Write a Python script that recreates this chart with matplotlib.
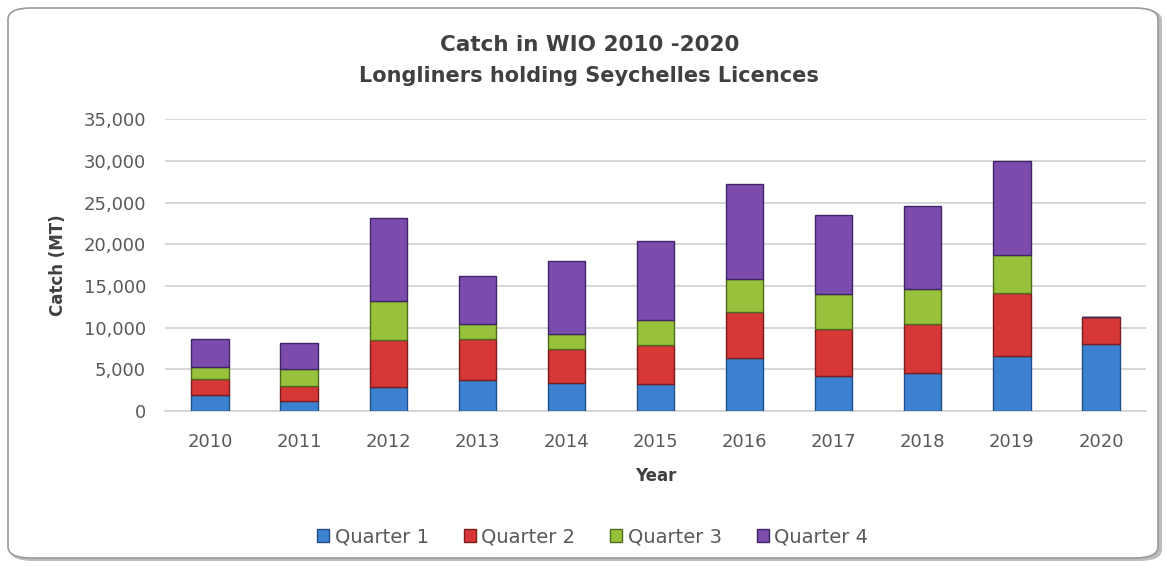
import matplotlib
matplotlib.use("Agg")
import matplotlib.pyplot as plt
from matplotlib.patches import FancyBboxPatch
from matplotlib.ticker import FuncFormatter, MultipleLocator
import numpy as np

years = ["2010", "2011", "2012", "2013", "2014", "2015", "2016", "2017", "2018", "2019", "2020"]
quarter1 = [1900, 1200, 2900, 3700, 3400, 3200, 6400, 4200, 4600, 6600, 8000]
quarter2 = [1900, 1800, 5600, 4900, 4000, 4700, 5500, 5600, 5900, 7600, 3300]
quarter3 = [1500, 2000, 4700, 1900, 1900, 3000, 3900, 4200, 4100, 4500, 0]
quarter4 = [3300, 3200, 10000, 5700, 8700, 9500, 11400, 9500, 10000, 11300, 0]
series_names = ["Quarter 1", "Quarter 2", "Quarter 3", "Quarter 4"]
colors = ["#3c82d0", "#d63838", "#98c23c", "#7b4cae"]
edges = ["#1f4f86", "#7a1c1c", "#4f6a1c", "#3f2466"]

plt.rcParams['font.family'] = ['DejaVu Sans']

fig = plt.figure(figsize=(11.67, 5.67), dpi=100)
fig.patch.set_facecolor("white")

# outer rounded border
shadow = FancyBboxPatch((10 / 1167, 6 / 567), 1152 / 1167, 552 / 567,
                        boxstyle="round,pad=0,rounding_size=0.02",
                        transform=fig.transFigure, facecolor="#bdbdbd",
                        edgecolor="none", zorder=0)
fig.patches.append(shadow)
border = FancyBboxPatch((8 / 1167, 9 / 567), 1150 / 1167, 550 / 567,
                        boxstyle="round,pad=0,rounding_size=0.02",
                        transform=fig.transFigure, facecolor="white",
                        edgecolor="#9a9a9a", linewidth=1.2, zorder=1)
fig.patches.append(border)

ax = fig.add_axes([0.1418, 0.2751, 0.9816 - 0.1418, 0.7896 - 0.2751])
ax.set_facecolor("none")
ax.set_zorder(2)

x = np.arange(len(years))
data = [quarter1, quarter2, quarter3, quarter4]
bottom = np.zeros(len(years))
for vals, name, c, e in zip(data, series_names, colors, edges):
    vals = np.array(vals, dtype=float)
    ax.bar(x, vals, width=0.42, bottom=bottom, color=c, edgecolor=e,
           linewidth=1.0, label=name, zorder=3)
    bottom += vals

ax.set_xlim(-0.5, len(years) - 0.5)
ax.set_ylim(0, 35000)
ax.yaxis.set_major_locator(MultipleLocator(5000))
ax.yaxis.set_major_formatter(FuncFormatter(lambda v, p: f"{int(v):,}"))
ax.set_xticks(x)
ax.set_xticklabels(years)
ax.grid(axis="y", color="#d4d4d4", linewidth=1.3, zorder=0)
for s in ["top", "right", "left"]:
    ax.spines[s].set_visible(False)
ax.spines["bottom"].set_color("#d4d4d4")
ax.spines["bottom"].set_linewidth(1.3)
ax.tick_params(axis="both", length=0, labelsize=13, colors="#595959")
ax.tick_params(axis="y", pad=14)
ax.tick_params(axis="x", pad=16)

ax.set_ylabel("Catch (MT)", fontsize=12, fontweight="bold", color="#404040", labelpad=12)
ax.set_xlabel("Year", fontsize=12, fontweight="bold", color="#404040", labelpad=11)

fig.text(0.505, 1 - 45 / 567, "Catch in WIO 2010 -2020", ha="center", va="center",
         fontsize=15.5, fontweight="bold", color="#404040")
fig.text(0.505, 1 - 76 / 567, "Longliners holding Seychelles Licences", ha="center", va="center",
         fontsize=15, fontweight="bold", color="#404040")

leg = fig.legend(loc="center", bbox_to_anchor=(0.508, 1 - 537 / 567), ncol=4,
                 frameon=False, fontsize=14, handlelength=0.6, handleheight=0.6,
                 handletextpad=0.3, columnspacing=1.8, labelcolor="#595959")

fig.savefig("out.png", dpi=100)
